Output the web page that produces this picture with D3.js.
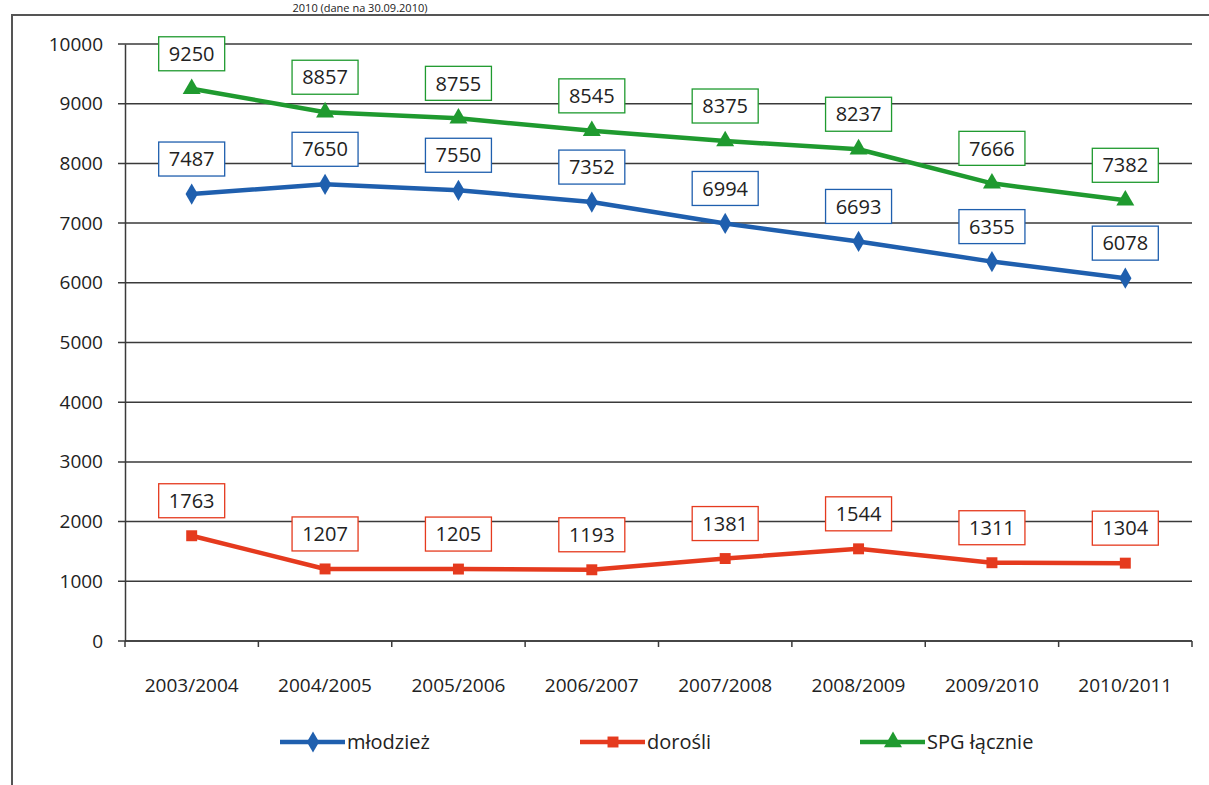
<!DOCTYPE html>
<html>
<head>
<meta charset="utf-8">
<script src="https://cdn.jsdelivr.net/npm/d3@7"></script>
<style>
  body { margin: 0; background: #fff; }
  svg text { font-family: "Open Sans", "DejaVu Sans", sans-serif; fill: #222; }
</style>
</head>
<body>
<div class="content"></div>
<script>
var categories = ["2003/2004", "2004/2005", "2005/2006", "2006/2007", "2007/2008", "2008/2009", "2009/2010", "2010/2011"];
var mlodziez = [7487, 7650, 7550, 7352, 6994, 6693, 6355, 6078];
var dorosli = [1763, 1207, 1205, 1193, 1381, 1544, 1311, 1304];
var spgLacznie = [9250, 8857, 8755, 8545, 8375, 8237, 7666, 7382];
var yTicks = [0, 1000, 2000, 3000, 4000, 5000, 6000, 7000, 8000, 9000, 10000];

var series = [
  {name: "młodzież", values: mlodziez, color: "#1f5fae", shape: d3.symbolDiamond, size: 130, lx: 280},
  {name: "dorośli", values: dorosli, color: "#e53a1e", shape: d3.symbolSquare, size: 120, lx: 580},
  {name: "SPG łącznie", values: spgLacznie, color: "#1f9a2f", shape: d3.symbolTriangle, size: 140, lx: 860}
];

function render(){
var W = 1209, H = 785;
var margin = {top: 44, right: 17, bottom: 144, left: 125},
    width = W - margin.left - margin.right,
    height = H - margin.top - margin.bottom;

var svg = d3.select(".content").append("svg")
    .attr("width", W)
    .attr("height", H);

// frame of the scanned page + title line above it
svg.append("path")
    .attr("d", "M12," + H + "V15H" + W)
    .attr("fill", "none").attr("stroke", "#555").attr("stroke-width", 2);
svg.append("text")
    .attr("x", 360).attr("y", 12)
    .attr("text-anchor", "middle")
    .style("font-size", "11px")
    .text("2010 (dane na 30.09.2010)");

var g = svg.append("g")
    .attr("transform", "translate(" + margin.left + "," + margin.top + ")");

var x = d3.scaleBand().domain(categories).range([0, width]);
var y = d3.scaleLinear().domain([0, 10000]).range([height, 0]);

// gridlines
g.append("g")
  .selectAll("line").data(yTicks).enter().append("line")
    .attr("x1", -7).attr("x2", width)
    .attr("y1", function(d) { return y(d); })
    .attr("y2", function(d) { return y(d); })
    .attr("stroke", "#3a3a3a").attr("stroke-width", 1.5);

// y axis
var yAxis = g.append("g")
    .call(d3.axisLeft(y).tickValues(yTicks).tickFormat(d3.format("d")).tickSize(0).tickPadding(22));
yAxis.select(".domain").attr("stroke", "#3a3a3a").attr("stroke-width", 1.5);
yAxis.selectAll("text").style("font-size", "19px").attr("fill", "#222");

// x axis
g.append("line")
    .attr("x1", 0).attr("x2", width).attr("y1", height).attr("y2", height)
    .attr("stroke", "#3a3a3a").attr("stroke-width", 1.5);
var bounds = categories.map(function(c) { return x(c); }).concat([width]);
g.append("g").selectAll("line").data(bounds).enter().append("line")
    .attr("x1", function(d) { return d; }).attr("x2", function(d) { return d; })
    .attr("y1", height).attr("y2", height + 6)
    .attr("stroke", "#3a3a3a").attr("stroke-width", 1.5);
g.append("g").selectAll("text").data(categories).enter().append("text")
    .attr("x", function(d) { return x(d) + x.bandwidth() / 2; })
    .attr("y", height + 51)
    .attr("text-anchor", "middle")
    .style("font-size", "19px")
    .text(function(d) { return d; });

var line = d3.line()
    .x(function(d, i) { return x(categories[i]) + x.bandwidth() / 2; })
    .y(function(d) { return y(d); });

series.forEach(function(s) {
  g.append("path")
      .datum(s.values)
      .attr("fill", "none")
      .attr("stroke", s.color)
      .attr("stroke-width", 4.5)
      .attr("stroke-linejoin", "round")
      .attr("d", line);
  g.append("g").selectAll("path").data(s.values).enter().append("path")
      .attr("transform", function(d, i) {
        return "translate(" + (x(categories[i]) + x.bandwidth() / 2) + "," + y(d) + ")";
      })
      .attr("d", d3.symbol().type(s.shape).size(s.size))
      .attr("fill", s.color);
});

// data labels
series.forEach(function(s) {
  var lab = g.append("g").selectAll("g").data(s.values).enter().append("g")
      .attr("transform", function(d, i) {
        return "translate(" + (x(categories[i]) + x.bandwidth() / 2) + "," + (y(d) - 35) + ")";
      });
  lab.append("rect")
      .attr("x", -33).attr("y", -17).attr("width", 66).attr("height", 34)
      .attr("fill", "#fff").attr("stroke", s.color).attr("stroke-width", 1.3);
  lab.append("text")
      .attr("text-anchor", "middle").attr("dy", "0.36em")
      .style("font-size", "20px")
      .text(function(d) { return d; });
});

// legend
var leg = svg.append("g").attr("transform", "translate(0,742)");
series.forEach(function(s) {
  leg.append("line")
      .attr("x1", s.lx).attr("x2", s.lx + 65)
      .attr("stroke", s.color).attr("stroke-width", 4.5);
  leg.append("path")
      .attr("transform", "translate(" + (s.lx + 33) + ",0)")
      .attr("d", d3.symbol().type(s.shape).size(s.size))
      .attr("fill", s.color);
  leg.append("text")
      .attr("x", s.lx + 67).attr("dy", "0.35em")
      .style("font-size", "20px")
      .text(s.name);
});
}
render();
</script>
</body>
</html>
